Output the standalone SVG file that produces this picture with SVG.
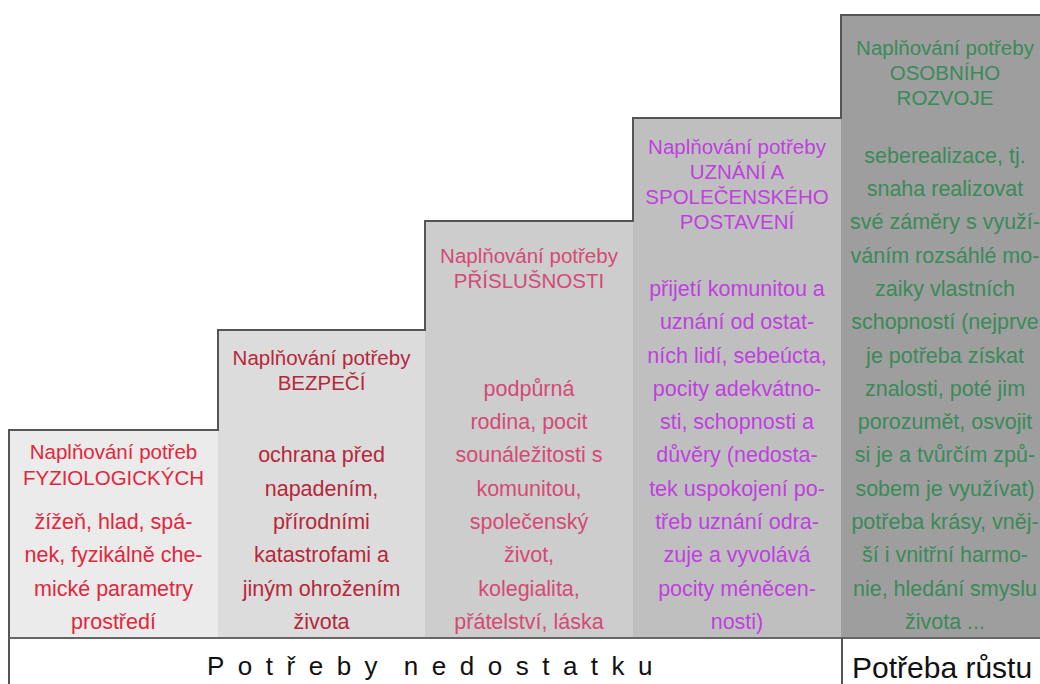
<svg xmlns="http://www.w3.org/2000/svg" width="1040" height="684" viewBox="0 0 1040 684">
<style>
text{font-family:"Liberation Sans",Arial,sans-serif;text-anchor:middle}
.t{font-size:20.5px}
.b{font-size:21.5px}
.c1{fill:#e2263c}
.c2{fill:#b5283a}
.c3{fill:#d44a76}
.c4{fill:#bf3fdf}
.c5{fill:#3a8a5a}
.big{fill:#111;text-anchor:start}
</style>
<rect width="1040" height="684" fill="#ffffff"/>
<g id="col1">
<rect x="9" y="430" width="209" height="208" fill="#ebebeb"/>
<text class="t c1"><tspan x="113.5" y="459">Naplňování potřeb</tspan><tspan x="113.5" y="485">FYZIOLOGICKÝCH</tspan></text>
<text class="b c1"><tspan x="113.5" y="529">žížeň, hlad, spá-</tspan><tspan x="113.5" y="562">nek, fyzikálně che-</tspan><tspan x="113.5" y="596">mické parametry</tspan><tspan x="113.5" y="629">prostředí</tspan></text>
</g>
<g id="col2">
<rect x="218" y="330" width="207" height="308" fill="#dcdcdc"/>
<text class="t c2"><tspan x="321.5" y="365">Naplňování potřeby</tspan><tspan x="321.5" y="390">BEZPEČÍ</tspan></text>
<text class="b c2"><tspan x="321.5" y="462">ochrana před</tspan><tspan x="321.5" y="496">napadením,</tspan><tspan x="321.5" y="529">přírodními</tspan><tspan x="321.5" y="562">katastrofami a</tspan><tspan x="321.5" y="596">jiným ohrožením</tspan><tspan x="321.5" y="629">života</tspan></text>
</g>
<g id="col3">
<rect x="425" y="221" width="208" height="417" fill="#cdcdcd"/>
<text class="t c3"><tspan x="529" y="263">Naplňování potřeby</tspan><tspan x="529" y="288">PŘÍSLUŠNOSTI</tspan></text>
<text class="b c3"><tspan x="529" y="396">podpůrná</tspan><tspan x="529" y="429">rodina, pocit</tspan><tspan x="529" y="462">sounáležitosti s</tspan><tspan x="529" y="496">komunitou,</tspan><tspan x="529" y="529">společenský</tspan><tspan x="529" y="562">život,</tspan><tspan x="529" y="596">kolegialita,</tspan><tspan x="529" y="629">přátelství, láska</tspan></text>
</g>
<g id="col4">
<rect x="633" y="118" width="208" height="520" fill="#bfbfbf"/>
<text class="t c4"><tspan x="737" y="154">Naplňování potřeby</tspan><tspan x="737" y="179">UZNÁNÍ A</tspan><tspan x="737" y="204">SPOLEČENSKÉHO</tspan><tspan x="737" y="229">POSTAVENÍ</tspan></text>
<text class="b c4"><tspan x="737" y="296">přijetí komunitou a</tspan><tspan x="737" y="329">uznání od ostat-</tspan><tspan x="737" y="363">ních lidí, sebeúcta,</tspan><tspan x="737" y="396">pocity adekvátno-</tspan><tspan x="737" y="429">sti, schopnosti a</tspan><tspan x="737" y="462">důvěry (nedosta-</tspan><tspan x="737" y="496">tek uspokojení po-</tspan><tspan x="737" y="529">třeb uznání odra-</tspan><tspan x="737" y="562">zuje a vyvolává</tspan><tspan x="737" y="596">pocity méněcen-</tspan><tspan x="737" y="629">nosti)</tspan></text>
</g>
<g id="col5">
<rect x="841" y="15" width="199" height="623" fill="#9e9e9e"/>
<text class="t c5"><tspan x="945" y="55">Naplňování potřeby</tspan><tspan x="945" y="80">OSOBNÍHO</tspan><tspan x="945" y="105">ROZVOJE</tspan></text>
<text class="b c5"><tspan x="945" y="163">seberealizace, tj.</tspan><tspan x="945" y="196">snaha realizovat</tspan><tspan x="945" y="229">své záměry s využí-</tspan><tspan x="945" y="263">váním rozsáhlé mo-</tspan><tspan x="945" y="296">zaiky vlastních</tspan><tspan x="945" y="329">schopností (nejprve</tspan><tspan x="945" y="363">je potřeba získat</tspan><tspan x="945" y="396">znalosti, poté jim</tspan><tspan x="945" y="429">porozumět, osvojit</tspan><tspan x="945" y="462">si je a tvůrčím způ-</tspan><tspan x="945" y="496">sobem je využívat)</tspan><tspan x="945" y="529">potřeba krásy, vněj-</tspan><tspan x="945" y="562">ší i vnitřní harmo-</tspan><tspan x="945" y="596">nie, hledání smyslu</tspan><tspan x="945" y="629">života ...</tspan></text>
</g>
<g id="connectors" fill="none" stroke="#555555" stroke-width="2">
<path d="M9,684 V430 H218 V330 H425 V221 H633 V118 H841 V15 H1040"/>
<path d="M9,638 H1040" stroke="#666666"/>
<path d="M842,638 V684"/>
</g>
<g id="footer">
<text class="big" x="207" y="675" font-size="26" letter-spacing="13.5" word-spacing="-8">Potřeby nedostatku</text>
<text class="big" x="852" y="678" font-size="30">Potřeba růstu</text>
</g>
</svg>
